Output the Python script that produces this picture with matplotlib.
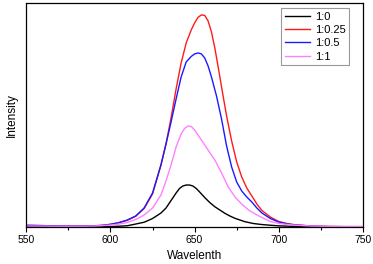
import numpy as np
import matplotlib
matplotlib.use("Agg")
import matplotlib.pyplot as plt
from matplotlib.ticker import MultipleLocator

plt.rcParams['font.family'] = ['Liberation Sans', 'DejaVu Sans']

# emission spectra (intensity in arbitrary units)
wl_red = [550, 560, 570, 580, 590, 595, 600, 605, 610, 615, 620, 625, 630, 633, 636, 639, 642, 645, 648,
          650, 652, 654, 656, 658, 660, 662, 664, 666, 669, 672, 675, 678, 681, 684, 687, 690, 695, 700,
          705, 710, 720, 730, 740, 750]
int_red = [1.7, 1.4, 1.1, 1.0, 1.2, 1.6, 2.7, 4.3, 6.8, 10.8, 18.5, 33, 62, 83, 109, 138, 164, 184, 197,
           204, 209.5, 212, 211.5, 206, 195, 179, 160, 140, 111, 86, 65, 50, 39, 31, 23, 16.5, 10, 5.5,
           3.5, 2.2, 1.0, 0.5, 0.4, 0.4]

wl_blue = [550, 560, 570, 580, 590, 595, 600, 605, 610, 615, 620, 625, 630, 633, 636, 639, 642, 645, 648,
           650, 652, 654, 656, 658, 660, 663, 666, 669, 672, 675, 678, 681, 684, 687, 690, 695, 700, 705,
           710, 720, 730, 740, 750]
int_blue = [1.7, 1.4, 1.1, 1.0, 1.2, 1.7, 2.7, 4.4, 7, 11, 19, 34, 62, 83, 105, 128, 150, 165, 170.5,
            173, 174, 173, 169, 161, 150, 131, 108, 81, 60, 45, 36, 30, 25, 19, 14, 8.5, 5, 3,
            2, 0.9, 0.5, 0.4, 0.4]

wl_pink = [550, 560, 570, 580, 590, 595, 600, 605, 610, 615, 620, 625, 630, 633, 636, 639, 642, 644, 646,
           648, 650, 654, 658, 662, 666, 670, 674, 678, 682, 686, 690, 695, 700, 705, 710, 720, 730, 740, 750]
int_pink = [1.0, 0.9, 0.8, 0.8, 1.0, 1.4, 2.0, 2.9, 4.6, 7.5, 12, 19, 32, 46, 62, 80, 93, 98.5, 101,
            100.5, 97, 87, 77, 67, 54, 40, 30, 23, 17, 13, 9.5, 5.5, 3.6, 2.5, 1.8, 1.0, 0.6, 0.4, 0.4]

wl_black = [550, 560, 570, 580, 590, 600, 605, 610, 615, 620, 625, 630, 633, 636, 639, 641, 643, 645, 647,
            649, 651, 653, 656, 659, 662, 665, 668, 671, 674, 677, 680, 685, 690, 695, 700, 710, 720, 750]
int_black = [0.5, 0.4, 0.3, 0.3, 0.3, 0.5, 0.8, 1.3, 3.0, 4.8, 8.5, 14, 19, 26.5, 34, 38.5, 41, 42, 42,
             41, 38.5, 35, 29.5, 24.5, 20.3, 17, 13.7, 11, 8.7, 7, 5.3, 3.5, 2.5, 1.8, 1.2, 0.6, 0.4, 0.3]

labels = ['1:0', '1:0.25', '1:0.5', '1:1']
colors = ['black', '#ff1a1a', '#1a1aff', '#ff80ff']

fig = plt.figure(figsize=(3.73, 2.64), dpi=100)
ax = fig.add_axes([0.0705, 0.140, 0.9025, 0.849])

ax.plot(wl_black, int_black, color=colors[0], lw=1.0, label=labels[0])
ax.plot(wl_red, int_red, color=colors[1], lw=1.0, label=labels[1])
ax.plot(wl_blue, int_blue, color=colors[2], lw=1.0, label=labels[2])
ax.plot(wl_pink, int_pink, color=colors[3], lw=1.0, label=labels[3])

ax.set_xlim(550, 750)
ax.set_ylim(0, 224)
ax.xaxis.set_major_locator(MultipleLocator(50))
ax.xaxis.set_minor_locator(MultipleLocator(25))
ax.tick_params(axis='x', which='major', direction='out', length=3.6, width=0.8, labelsize=7.5, pad=2)
ax.tick_params(axis='x', which='minor', direction='out', length=2.2, width=0.8)
ax.set_yticks([])
for s in ax.spines.values():
    s.set_linewidth(0.9)

ax.set_xlabel('Wavelenth', fontsize=8.5, labelpad=4)
ax.set_ylabel('Intensity', fontsize=8.5, labelpad=6)

leg = ax.legend(loc='upper right', bbox_to_anchor=(0.935, 0.969), bbox_transform=fig.transFigure,
                borderaxespad=0, fancybox=False, fontsize=8, handlelength=2.3, handletextpad=0.4,
                labelspacing=0.3, borderpad=0.3, framealpha=1)
leg.get_frame().set_edgecolor('#999999')
leg.get_frame().set_linewidth(0.8)

fig.savefig('out.png', dpi=100)
